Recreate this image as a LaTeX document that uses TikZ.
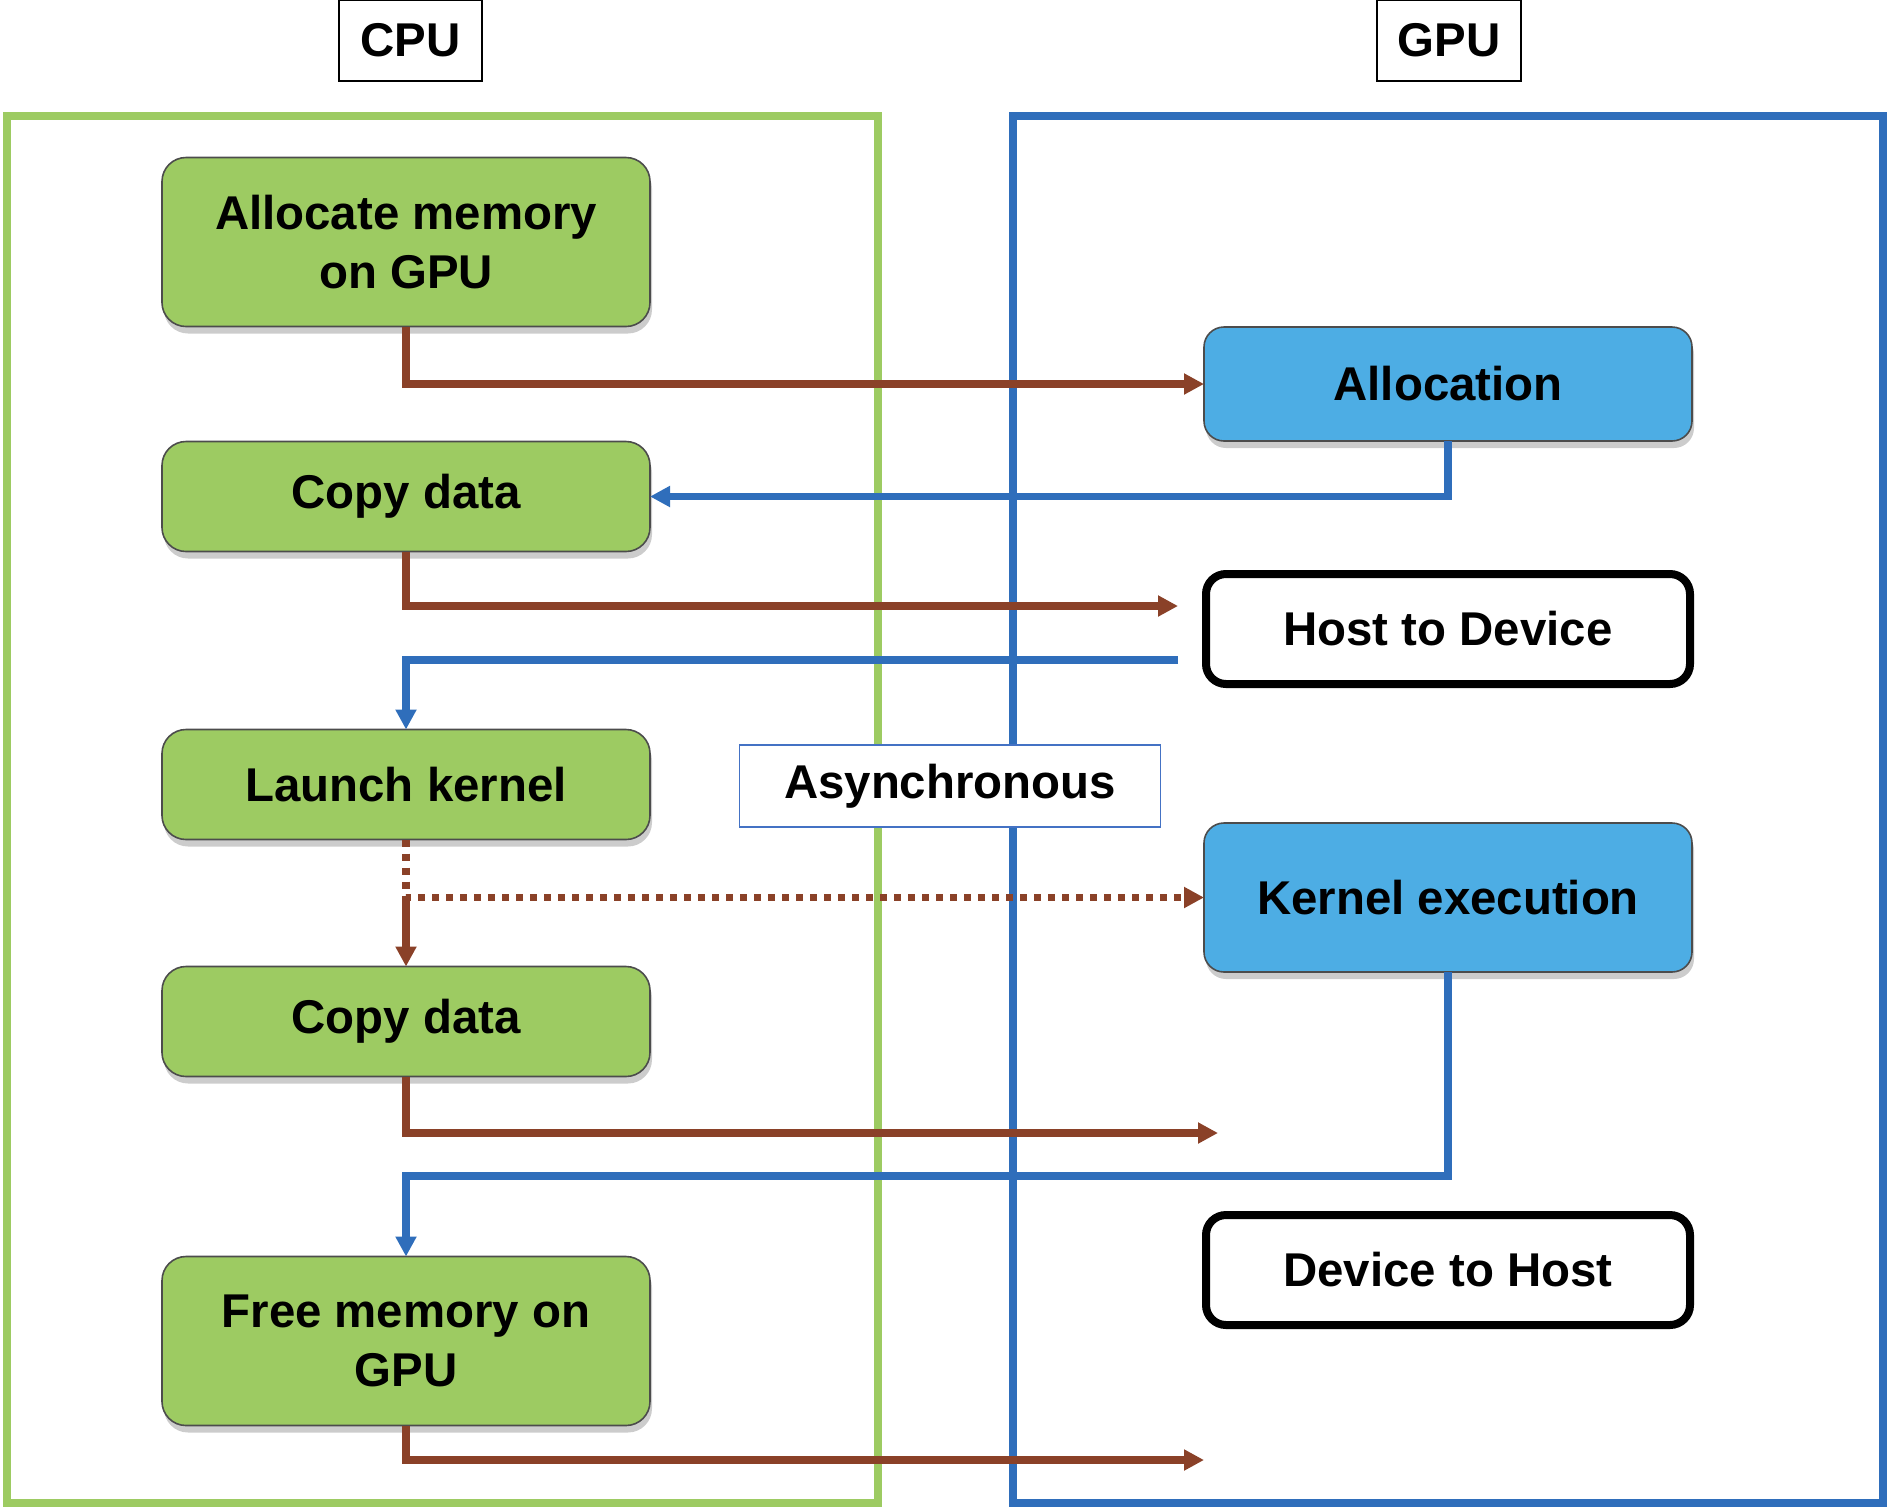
\documentclass[tikz,border=0pt]{standalone}
\usepackage{fontspec}
\setmainfont{Liberation Sans}
\usetikzlibrary{arrows.meta, shadows, positioning}

\definecolor{cpugreen}{HTML}{9DCB62}
\definecolor{gpublue}{HTML}{2F6EBB}
\definecolor{kernblue}{HTML}{4DADE4}
\definecolor{callbrown}{HTML}{8A4128}
\definecolor{asyncline}{HTML}{4472C4}

\begin{document}
\begin{tikzpicture}[x=1pt, y=-1pt, node distance=1pt, outer sep=0pt, >={Triangle[length=10pt,width=10pt]}]

\tikzstyle{txt}=[font=\fontsize{23.7}{29.5}\selectfont\bfseries, align=center, text=black]
\tikzstyle{hostbox}=[txt, rectangle, rounded corners=12pt, draw=black!70, line width=0.8pt, fill=cpugreen, minimum width=244pt, drop shadow={shadow xshift=1pt, shadow yshift=-3.5pt, opacity=0.4}]
\tikzstyle{devbox}=[hostbox, fill=kernblue, rounded corners=10pt]
\tikzstyle{copybox}=[txt, rectangle, rounded corners=10pt, draw=black, line width=4pt, fill=white, minimum width=242pt, minimum height=55pt]
\tikzstyle{sidelabel}=[txt, rectangle, draw=black, line width=0.6pt, fill=white, minimum height=40.5pt]
\tikzstyle{call}=[->, line width=3.6pt, color=callbrown]
\tikzstyle{reply}=[->, line width=3.6pt, color=gpublue]

\useasboundingbox (0,0) rectangle (945,755.5);

% host and device frames
\draw[cpugreen, line width=4.2pt] (3.5,58) rectangle (439,751.5);
\draw[gpublue, line width=4.2pt] (506.5,58) rectangle (941.5,751.5);

\node[sidelabel, minimum width=71.5pt] (cpu) at (205.25,20.25) {CPU};
\node[sidelabel, minimum width=72pt] (gpu) at (724.5,20.25) {GPU};

% CPU side
\node[hostbox, minimum height=84.5pt] (alloc) at (203,121) {Allocate memory\\on GPU};
\node[hostbox, minimum height=55pt] (copyin) [below = 57.5pt of alloc] {Copy data};
\node[hostbox, minimum height=55pt] (launch) [below = 89pt of copyin] {Launch kernel};
\node[hostbox, minimum height=55pt] (copyout) [below = 63.5pt of launch] {Copy data};
\node[hostbox, minimum height=84.5pt] (free) [below = 90pt of copyout] {Free memory on\\GPU};

% GPU side
\node[devbox, minimum height=57pt] (allocation) at (724,192) {Allocation};
\node[copybox] (htod) [below = 66.5pt of allocation] {Host to Device};
\node[devbox, minimum height=74.5pt] (kernel) [below = 69.5pt of htod] {Kernel execution};
\node[copybox] (dtoh) [below = 121.5pt of kernel] {Device to Host};

\node[sidelabel, draw=asyncline, minimum width=210.5pt, minimum height=41pt] (async) at (475,393) {Asynchronous};

% loose ends next to the copy boxes
\coordinate (htodin) at (589,303);
\coordinate (htodout) at (589,330);
\coordinate (dtohin) at (609,566.5);
\coordinate (dtohout) at (203,588);
\coordinate (freeout) at (602,730);
\coordinate (fork) at (launch.south |- kernel.west);

\draw[call] (alloc.south) |- (allocation.west);
\draw[reply] (allocation.south) |- (copyin.east);
\draw[call] (copyin.south) |- (htodin);
\draw[reply] (htodout) -| (launch.north);
\draw[call, dash pattern=on 3.6pt off 3.4pt] (launch.south) -- (fork) -- (kernel.west);
\draw[call] (fork) -- (copyout.north);
\draw[call] (copyout.south) |- (dtohin);
\draw[reply] (kernel.south) |- (dtohout) -- (free.north);
\draw[call] (free.south) |- (freeout);

\end{tikzpicture}
\end{document}
